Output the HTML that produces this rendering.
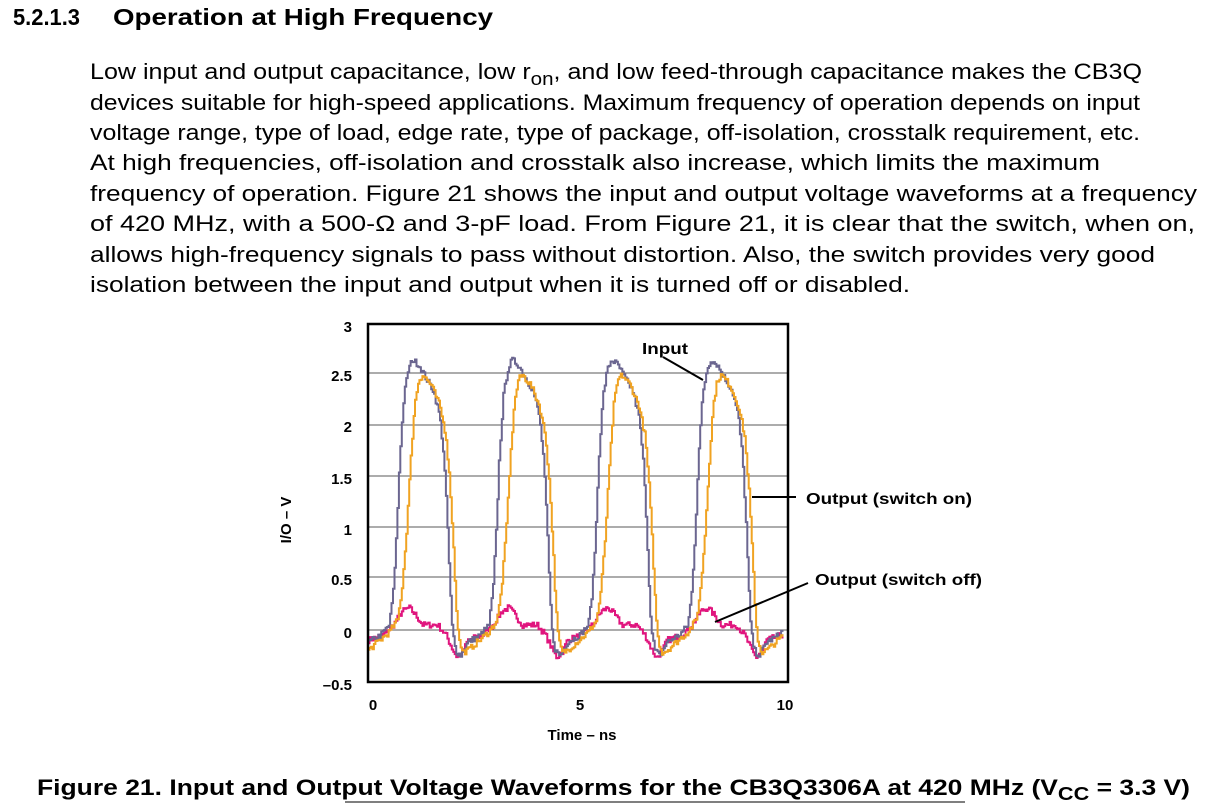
<!DOCTYPE html>
<html><head><meta charset="utf-8"><style>
html,body{margin:0;padding:0;background:#fff;width:1230px;height:804px;overflow:hidden}
svg text{font-family:"Liberation Sans",Arial,sans-serif}
</style></head><body>
<svg id="s" width="1230" height="804" viewBox="0 0 1230 804" xmlns="http://www.w3.org/2000/svg">
<text x="13" y="25" font-size="23" font-weight="bold" textLength="67" lengthAdjust="spacingAndGlyphs">5.2.1.3</text>
<text x="113" y="25" font-size="23" font-weight="bold" textLength="380" lengthAdjust="spacingAndGlyphs">Operation at High Frequency</text>
<g font-size="22" fill="#000">
<text x="90" y="79" textLength="1052" lengthAdjust="spacingAndGlyphs">Low input and output capacitance, low r<tspan dy="6" font-size="18">on</tspan><tspan dy="-6">, and low feed-through capacitance makes the CB3Q</tspan></text>
<text x="90" y="110" textLength="1050" lengthAdjust="spacingAndGlyphs">devices suitable for high-speed applications. Maximum frequency of operation depends on input</text>
<text x="90" y="140" textLength="1050" lengthAdjust="spacingAndGlyphs">voltage range, type of load, edge rate, type of package, off-isolation, crosstalk requirement, etc.</text>
<text x="90" y="170" textLength="1010" lengthAdjust="spacingAndGlyphs">At high frequencies, off-isolation and crosstalk also increase, which limits the maximum</text>
<text x="90" y="201" textLength="1107" lengthAdjust="spacingAndGlyphs">frequency of operation. Figure 21 shows the input and output voltage waveforms at a frequency</text>
<text x="90" y="231" textLength="1105" lengthAdjust="spacingAndGlyphs">of 420 MHz, with a 500-Ω and 3-pF load. From Figure 21, it is clear that the switch, when on,</text>
<text x="90" y="262" textLength="1065" lengthAdjust="spacingAndGlyphs">allows high-frequency signals to pass without distortion. Also, the switch provides very good</text>
<text x="90" y="292" textLength="820" lengthAdjust="spacingAndGlyphs">isolation between the input and output when it is turned off or disabled.</text>
</g>
<g stroke="#7a7a7a" stroke-width="1.3">
<line x1="368" x2="788" y1="373" y2="373"/><line x1="368" x2="788" y1="425" y2="425"/>
<line x1="368" x2="788" y1="476" y2="476"/><line x1="368" x2="788" y1="527" y2="527"/>
<line x1="368" x2="788" y1="577" y2="577"/><line x1="368" x2="788" y1="630" y2="630"/>
</g>
<g id="series" fill="none" stroke-width="2"></g>
<rect x="368" y="324" width="420" height="358" fill="none" stroke="#000" stroke-width="2.5"/>
<g font-size="15" font-weight="bold" text-anchor="end">
<text x="352" y="332">3</text><text x="352" y="381">2.5</text><text x="352" y="432">2</text>
<text x="352" y="484">1.5</text><text x="352" y="535">1</text><text x="352" y="585">0.5</text>
<text x="352" y="638">0</text><text x="352" y="690">–0.5</text>
</g>
<g font-size="15" font-weight="bold" text-anchor="middle">
<text x="373" y="710">0</text><text x="580" y="710">5</text><text x="785" y="710">10</text>
<text x="582" y="740">Time – ns</text>
<text transform="translate(291,520) rotate(-90)">I/O – V</text>
</g>
<g font-size="16" font-weight="bold">
<text x="642" y="354" textLength="46" lengthAdjust="spacingAndGlyphs">Input</text>
<text x="806" y="504" textLength="166" lengthAdjust="spacingAndGlyphs">Output (switch on)</text>
<text x="815" y="585" textLength="167" lengthAdjust="spacingAndGlyphs">Output (switch off)</text>
</g>
<g stroke="#000" stroke-width="2">
<line x1="663" y1="357" x2="703" y2="380"/>
<line x1="752" y1="497" x2="796" y2="497"/>
<line x1="715" y1="622" x2="808" y2="583"/>
</g>
<text x="37" y="795" font-size="22" font-weight="bold" textLength="1153" lengthAdjust="spacingAndGlyphs">Figure 21.  Input and Output Voltage Waveforms for the CB3Q3306A at 420 MHz (V<tspan dy="5" font-size="18">CC</tspan><tspan dy="-5"> = 3.3 V)</tspan></text>
<line x1="345" y1="802" x2="965" y2="802" stroke="#555" stroke-width="1.5"/>
</svg>
<script>
(function(){
var T=2.37;
var inp=[[0,-0.12],[0.3,-0.05],[0.5,0.05],[0.6,0.4],[0.68,1.0],[0.75,1.7],[0.85,2.3],[0.95,2.55],[1.05,2.65],[1.2,2.6],[1.4,2.45],[1.55,2.35],[1.7,2.1],[1.8,1.7],[1.88,1.1],[1.95,0.4],[2.0,0.0],[2.08,-0.2],[2.2,-0.25],[2.37,-0.12]];
var out=[[0,-0.2],[0.5,-0.02],[0.7,0.1],[0.8,0.4],[0.9,0.9],[1.0,1.6],[1.1,2.2],[1.2,2.45],[1.3,2.5],[1.5,2.4],[1.7,2.2],[1.85,1.9],[1.95,1.4],[2.03,0.8],[2.1,0.2],[2.16,-0.1],[2.25,-0.22],[2.37,-0.2]];
var pk=[[0,-0.1],[0.35,-0.05],[0.6,0.05],[0.8,0.18],[0.97,0.22],[1.12,0.15],[1.3,0.05],[1.65,0.05],[1.85,-0.05],[2.02,-0.2],[2.12,-0.27],[2.27,-0.2],[2.37,-0.1]];
function ev(k,t){t=((t%T)+T)%T;for(var i=1;i<k.length;i++){if(t<=k[i][0]){var a=k[i-1],b=k[i];return a[1]+(b[1]-a[1])*(t-a[0])/(b[0]-a[0]);}}return k[k.length-1][1];}
var seed=7;function rnd(){seed=(seed*16807)%2147483647;return seed/2147483647-0.5;}
function path(k,col,sh){var d="",py=null;for(var t=0;t<=9.9;t+=0.035){var v=ev(k,t-sh)+rnd()*0.06;var x=368+t*42.0,y=630-v*102;if(py===null)d="M"+x.toFixed(1)+" "+y.toFixed(1);else d+=" L"+x.toFixed(1)+" "+py.toFixed(1)+" L"+x.toFixed(1)+" "+y.toFixed(1);py=y;}
var p=document.createElementNS("http://www.w3.org/2000/svg","path");p.setAttribute("d",d);p.setAttribute("stroke",col);document.getElementById("series").appendChild(p);}
path(pk,"#e0157e",0);
path(inp,"#6b6690",0);
path(out,"#f0a322",0);
})();
</script>
</body></html>
